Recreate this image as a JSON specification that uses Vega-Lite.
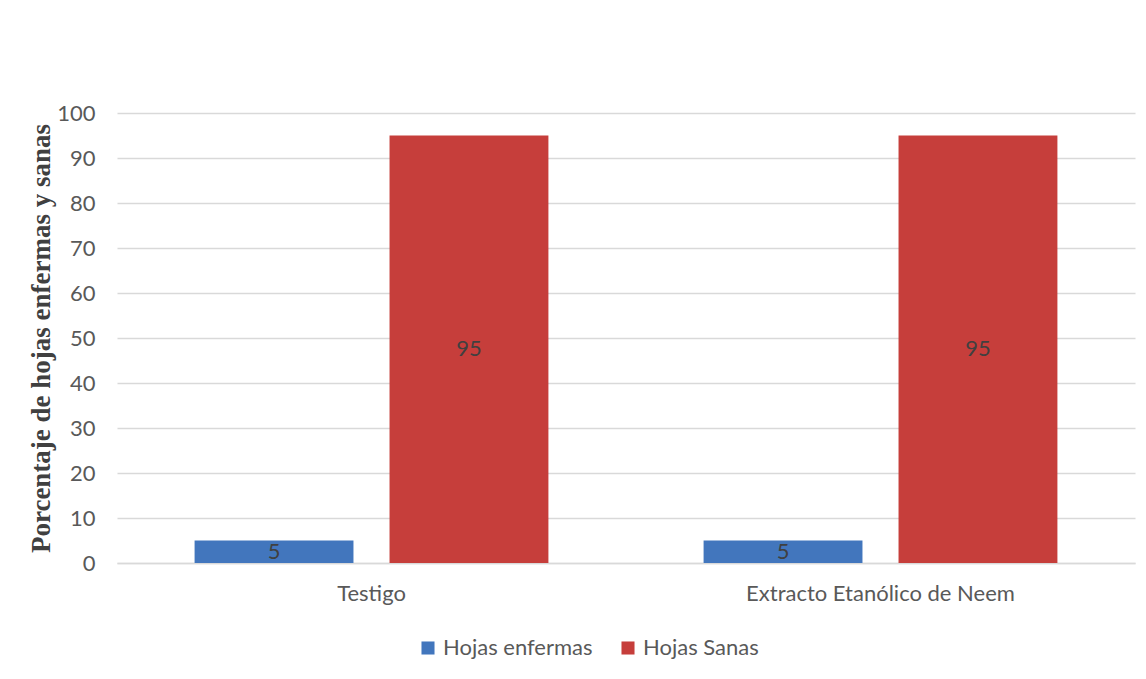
{
  "$schema": "https://vega.github.io/schema/vega-lite/v6.json",
  "width": 1018,
  "height": 450,
  "autosize": {"type": "none"},
  "padding": {"left": 117, "top": 113, "right": 11, "bottom": 116},
  "background": "white",
  "config": {
    "view": {"stroke": null},
    "font": "Lato"
  },
  "data": {
    "values": [
      {"grupo": "Testigo", "serie": "Hojas enfermas", "valor": 5},
      {"grupo": "Testigo", "serie": "Hojas Sanas", "valor": 95},
      {"grupo": "Extracto Etanólico de Neem", "serie": "Hojas enfermas", "valor": 5},
      {"grupo": "Extracto Etanólico de Neem", "serie": "Hojas Sanas", "valor": 95}
    ]
  },
  "encoding": {
    "x": {
      "field": "grupo",
      "type": "nominal",
      "sort": ["Testigo", "Extracto Etanólico de Neem"],
      "scale": {"paddingInner": 0, "paddingOuter": 0},
      "axis": {
        "title": null,
        "labelAngle": 0,
        "labelFont": "Lato",
        "labelFontSize": 22,
        "labelColor": "#595959",
        "labelPadding": 20,
        "labelLimit": 500,
        "ticks": false,
        "domainColor": "#d9d9d9",
        "domainWidth": 1.5
      }
    },
    "xOffset": {
      "field": "serie",
      "type": "nominal",
      "sort": ["Hojas enfermas", "Hojas Sanas"],
      "scale": {"paddingInner": 0.185, "paddingOuter": 0.398}
    }
  },
  "layer": [
    {
      "mark": {"type": "bar"},
      "encoding": {
        "y": {
          "field": "valor",
          "type": "quantitative",
          "scale": {"domain": [0, 100]},
          "axis": {
            "title": "Porcentaje de hojas enfermas y sanas",
            "titleFont": "Liberation Serif",
            "titleFontSize": 27,
            "titleFontWeight": "bold",
            "titleColor": "#404040",
            "titlePadding": 1,
            "values": [0, 10, 20, 30, 40, 50, 60, 70, 80, 90, 100],
            "labelFont": "Lato",
            "labelFontSize": 22,
            "labelColor": "#595959",
            "labelPadding": 22,
            "ticks": false,
            "domain": false,
            "gridColor": "#d9d9d9",
            "gridWidth": 1.5
          }
        },
        "color": {
          "field": "serie",
          "type": "nominal",
          "sort": ["Hojas enfermas", "Hojas Sanas"],
          "scale": {"range": ["#4276bd", "#c63e3b"]},
          "legend": {
            "title": null,
            "orient": "none",
            "legendX": 300,
            "legendY": 524,
            "direction": "horizontal",
            "symbolType": "square",
            "symbolSize": 170,
            "labelFont": "Lato",
            "labelFontSize": 22,
            "labelColor": "#595959",
            "columnPadding": 24
          }
        }
      }
    },
    {
      "mark": {"type": "text", "baseline": "middle", "font": "Lato", "fontSize": 22, "color": "#404040"},
      "encoding": {
        "y": {
          "field": "valor",
          "type": "quantitative",
          "scale": {"domain": [0, 200]},
          "axis": null
        },
        "text": {"field": "valor", "type": "quantitative"}
      }
    }
  ],
  "resolve": {"scale": {"y": "independent"}}
}
